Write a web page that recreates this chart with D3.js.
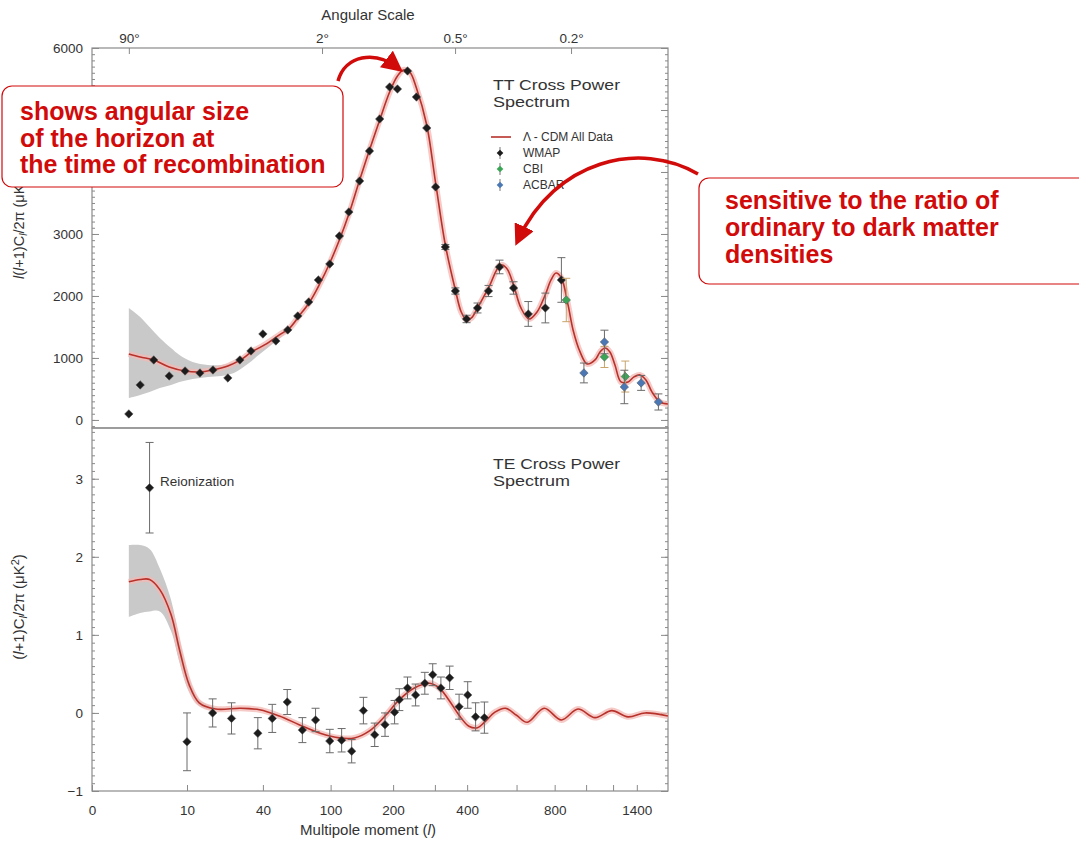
<!DOCTYPE html>
<html><head><meta charset="utf-8">
<script src="https://cdn.jsdelivr.net/npm/d3@7"></script>
<style>
body{margin:0;background:#fff;}
svg{display:block;font-family:"Liberation Sans",Arial,Helvetica,sans-serif;}
</style></head><body>
<svg id="chart" width="1079" height="842"></svg>
<script>
// ---------------- data ----------------
const xTickValues = [0, 10, 40, 100, 200, 400, 800, 1400];
const xMinorTickValues = [300, 600, 1000, 1200];
const angleTickDegrees = [90, 2, 0.5, 0.2];
const angleTickLabels = ["90°", "2°", "0.5°", "0.2°"];
const ttTickValues = [0, 1000, 2000, 3000, 4000, 5000, 6000];
const ttTickLabelsShown = [0, 1000, 2000, 3000, 6000]; // 4000/5000 lie under the annotation box
const teTickValues = [-1, 0, 1, 2, 3];

// Lambda-CDM model, TT
const ttModelL = [2,3,4.5,6.7,9.6,13,17,22.5,28,33.5,41,51,59,67,77,88,99,111,125,140,156,174,193,209,222,236,252,278,302,330,361,380,398,415,437,479,528,554,586,621,661,702,746,779,808,840,881,913,959,1007,1063,1100,1137,1175,1215,1264,1323,1375,1428,1483,1540,1618,1699];
const ttModelV = [1065,1016,968,855,790,774,806,871,968,1097,1210,1371,1484,1677,1903,2210,2532,2903,3355,3871,4355,4839,5290,5548,5645,5613,5355,4758,3823,2823,2097,1742,1613,1645,1806,2129,2500,2452,2177,1806,1629,1742,2016,2258,2371,2290,1855,1452,1097,903,968,1097,1161,1097,887,613,613,694,726,645,452,290,258];
// TT cosmic-variance band (low l)
const ttBandL = [2,3,4,5.3,7,8.5,11.3,15.5,20,25,31,38,47,58,70];
const ttBandHi = [1806,1661,1500,1322,1161,1048,935,887,887,935,1048,1177,1322,1500,1730];
const ttBandLo = [355,403,452,516,565,613,661,694,710,758,890,1060,1240,1440,1690];

// WMAP TT binned data
const wmapTTL = [2,3,4.5,6.7,9.6,13.2,17.1,22.5,27.7,33.2,40,48.5,57.4,65.8,76,86,99,111,124,140,156,174,193,209,231,252,278,302,330,361,398,437,479,524,586,657,747,840];
const wmapTTV = [97,565,968,710,790,758,806,677,968,1113,1387,1274,1452,1677,1903,2258,2516,2968,3355,3855,4339,4855,5371,5339,5629,5210,4710,3758,2790,2080,1629,1806,2080,2468,2129,1710,1806,2258];
const wmapTTErr = [0,0,0,0,0,0,0,0,0,0,0,0,0,0,0,0,0,0,0,0,0,0,0,0,0,0,0,0,40,50,60,80,90,110,100,200,240,360];
// CBI (green)
const cbiL = [870, 1133, 1300];
const cbiV = [1935, 1016, 700];
const cbiErr = [350, 170, 250];
// ACBAR (blue)
const acbarL = [985, 1133, 1292, 1439, 1603];
const acbarV = [758, 1258, 532, 597, 290];
const acbarErr = [160, 190, 270, 120, 130];

// Lambda-CDM model, TE
const teModelL = [2,3,4,5.3,7,8.5,10.5,13,18,28,38,51,67,88,111,132,156,184,213,247,286,312,340,373,406,437,463,505,550,600,652,741,840,945,1063,1190,1323,1475,1699];
const teModelV = [1.68,1.71,1.71,1.58,1.26,0.81,0.36,0.13,0.05,0.06,0.04,-0.04,-0.15,-0.26,-0.32,-0.32,-0.23,-0.04,0.17,0.32,0.38,0.32,0.17,-0.03,-0.17,-0.19,-0.12,0.01,0.06,-0.03,-0.12,0.06,-0.09,0.05,-0.06,0.03,-0.05,0.0,-0.04];
const teBandL = [2,3,4,5.3,7,8.5,10.5,13,18];
const teBandHi = [2.15,2.15,2.1,1.85,1.45,0.95,0.45,0.17,0.07];
const teBandLo = [1.23,1.28,1.3,1.3,1.05,0.65,0.27,0.09,0.03];
// WMAP TE data
const wmapTEL = [4,10,17,24,37,46,57,70,83,99,114,128,146,165,184,203,213,231,250,273,294,317,343,373,402,430,463];
const wmapTEV = [2.885,-0.37,0.0,-0.07,-0.26,-0.07,0.14,-0.22,-0.09,-0.36,-0.35,-0.49,0.03,-0.28,-0.15,0.01,0.17,0.32,0.23,0.38,0.49,0.32,0.45,0.08,0.23,-0.05,-0.06];
const wmapTEErr = [0.58,0.37,0.18,0.2,0.2,0.18,0.16,0.16,0.15,0.15,0.15,0.15,0.17,0.15,0.15,0.15,0.14,0.14,0.14,0.14,0.14,0.14,0.15,0.16,0.17,0.18,0.2];

const annotation1 = ["shows angular size", "of the horizon at", "the time of recombination"];
const annotation2 = ["sensitive to the ratio of", "ordinary to dark matter", "densities"];

// ---------------- layout ----------------
const svg = d3.select("#chart");
const L = 92, R = 668, T1 = 48, B1 = 428, T2 = 428, B2 = 791;
const tf = l => Math.pow(1 + l, 0.24);
const xs = d3.scaleLinear().domain([tf(0), tf(10), tf(1700)]).range([L, 187, R]);
const x = l => xs(tf(l));
const yTT = d3.scaleLinear().domain([-130, 6000]).range([B1, T1]);
const yTE = d3.scaleLinear().domain([-1, 3.65]).range([B2, T2]);

const axisColor = "#8a8a8a", textColor = "#333";

function styleAxis(g){
  g.selectAll("path.domain").remove();
  g.selectAll("line").attr("stroke", axisColor).attr("stroke-width", 1);
  g.selectAll("text").attr("fill", textColor).style("font-size", "13.5px")
   .style("font-family", '"Liberation Sans",Arial,sans-serif');
}

// frames
[[T1,B1],[T2,B2]].forEach(([t,b]) => {
  svg.append("rect").attr("x", L).attr("y", t).attr("width", R-L).attr("height", b-t)
    .attr("fill","none").attr("stroke", axisColor).attr("stroke-width", 1.2);
});

// y axes TT
const ttMinor = d3.range(-100, 6001, 100);
svg.append("g").attr("transform",`translate(${L},0)`)
  .call(d3.axisLeft(yTT).tickValues(ttMinor).tickFormat("").tickSizeInner(-3).tickSizeOuter(0)).call(styleAxis);
svg.append("g").attr("transform",`translate(${L},0)`)
  .call(d3.axisLeft(yTT).tickValues(ttTickValues).tickFormat(d => ttTickLabelsShown.includes(d) ? d3.format("d")(d) : "").tickSizeInner(-7).tickSizeOuter(0).tickPadding(9)).call(styleAxis);
svg.append("g").attr("transform",`translate(${R},0)`)
  .call(d3.axisRight(yTT).tickValues(ttMinor).tickFormat("").tickSizeInner(-3).tickSizeOuter(0)).call(styleAxis);
svg.append("g").attr("transform",`translate(${R},0)`)
  .call(d3.axisRight(yTT).tickValues(ttTickValues).tickFormat("").tickSizeInner(-7).tickSizeOuter(0)).call(styleAxis);

// y axes TE
const teMinor = d3.range(-1, 3.61, 0.1).map(v => +v.toFixed(1));
svg.append("g").attr("transform",`translate(${L},0)`)
  .call(d3.axisLeft(yTE).tickValues(teMinor).tickFormat("").tickSizeInner(-3).tickSizeOuter(0)).call(styleAxis);
svg.append("g").attr("transform",`translate(${L},0)`)
  .call(d3.axisLeft(yTE).tickValues(teTickValues).tickFormat(d3.format("d")).tickSizeInner(-7).tickSizeOuter(0).tickPadding(9)).call(styleAxis);
svg.append("g").attr("transform",`translate(${R},0)`)
  .call(d3.axisRight(yTE).tickValues(teMinor).tickFormat("").tickSizeInner(-3).tickSizeOuter(0)).call(styleAxis);
svg.append("g").attr("transform",`translate(${R},0)`)
  .call(d3.axisRight(yTE).tickValues(teTickValues).tickFormat("").tickSizeInner(-7).tickSizeOuter(0)).call(styleAxis);

// x axis bottom
const xAxisScale = d3.scaleLinear().domain(xs.domain()).range(xs.range());
svg.append("g").attr("transform",`translate(0,${B2})`)
  .call(d3.axisBottom(xAxisScale).tickValues(xTickValues.map(tf)).tickFormat((d,i)=>xTickValues[i]).tickSizeInner(-6).tickSizeOuter(0).tickPadding(14)).call(styleAxis);
svg.append("g").attr("transform",`translate(0,${B2})`)
  .call(d3.axisBottom(xAxisScale).tickValues(xMinorTickValues.map(tf)).tickFormat("").tickSizeInner(-6).tickSizeOuter(0)).call(styleAxis);

// x axis top (angular scale)
svg.append("g").attr("transform",`translate(0,${T1})`)
  .call(d3.axisTop(xAxisScale).tickValues(angleTickDegrees.map(a => tf(180/a))).tickFormat((d,i)=>angleTickLabels[i]).tickSizeInner(-6).tickSizeOuter(0).tickPadding(5)).call(styleAxis);

// axis titles
svg.append("text").attr("x", 368).attr("y", 20).attr("text-anchor","middle")
  .attr("fill", textColor).style("font-size","15px").text("Angular Scale");
const xt = svg.append("text").attr("x", 368).attr("y", 835).attr("text-anchor","middle")
  .attr("fill", textColor).style("font-size","15px");
xt.append("tspan").text("Multipole moment (");
xt.append("tspan").style("font-style","italic").text("l");
xt.append("tspan").text(")");

function yTitle(x0, y0, anchor, withL, fs){
  const t = svg.append("text").attr("transform",`translate(${x0},${y0}) rotate(-90)`).attr("text-anchor",anchor)
    .attr("fill", textColor).style("font-size", fs + "px");
  const sub = Math.round(fs*0.7);
  if (withL) t.append("tspan").style("font-style","italic").text("l");
  t.append("tspan").text("(");
  t.append("tspan").style("font-style","italic").text("l");
  t.append("tspan").text("+1)C");
  t.append("tspan").style("font-style","italic").style("font-size", sub+"px").attr("dy", 3).text("l");
  t.append("tspan").attr("dy", -3).text("/2π (μK");
  t.append("tspan").style("font-size", sub+"px").attr("dy", -5).text("2");
  t.append("tspan").attr("dy", 5).text(")");
}
yTitle(24, 279, "start", true, 14.5);
yTitle(24, 607, "middle", false, 15);

// clip paths
const defs = svg.append("defs");
defs.append("clipPath").attr("id","clipTT").append("rect").attr("x",L).attr("y",T1).attr("width",R-L).attr("height",B1-T1);
defs.append("clipPath").attr("id","clipTE").append("rect").attr("x",L).attr("y",T2).attr("width",R-L).attr("height",B2-T2);

// ---- TT panel ----
const gTT = svg.append("g").attr("clip-path","url(#clipTT)");
const ttBand = ttBandL.map((l,i)=>({l, hi: ttBandHi[i], lo: ttBandLo[i]}));
gTT.append("path").datum(ttBand)
  .attr("d", d3.area().x(d=>x(d.l)).y0(d=>yTT(d.lo)).y1(d=>yTT(d.hi)).curve(d3.curveCatmullRom))
  .attr("fill","#c9c9c9");
const ttModel = ttModelL.map((l,i)=>({l, v: ttModelV[i]}));
const ttLine = d3.line().x(d=>x(d.l)).y(d=>yTT(d.v)).curve(d3.curveCatmullRom);
gTT.append("path").datum(ttModel).attr("d", ttLine).attr("fill","none").attr("stroke","#f2b8b4").attr("stroke-width",6).attr("stroke-opacity",0.75);
gTT.append("path").datum(ttModel).attr("d", ttLine).attr("fill","none").attr("stroke","#b8312b").attr("stroke-width",1.6);

const diamond = d3.symbol(d3.symbolSquare, 36);
function drawPoints(g, ls, vs, es, ys, fill, barColor){
  const pts = ls.map((l,i)=>({l, v: vs[i], e: es[i]}));
  const eb = g.append("g");
  pts.filter(d=>d.e>0).forEach(d=>{
    const cx = x(d.l);
    eb.append("line").attr("x1",cx).attr("x2",cx).attr("y1",ys(d.v-d.e)).attr("y2",ys(d.v+d.e)).attr("stroke",barColor).attr("stroke-width",1);
    [d.v-d.e, d.v+d.e].forEach(v=>eb.append("line").attr("x1",cx-4).attr("x2",cx+4).attr("y1",ys(v)).attr("y2",ys(v)).attr("stroke",barColor).attr("stroke-width",1));
  });
  g.append("g").selectAll("path").data(pts).join("path")
    .attr("transform", d=>`translate(${x(d.l)},${ys(d.v)}) rotate(45)`)
    .attr("d", diamond)
    .attr("fill", fill).attr("stroke","#555").attr("stroke-width",0.5);
}
drawPoints(gTT, wmapTTL, wmapTTV, wmapTTErr, yTT, "#1c1c1c", "#6b6b6b");
drawPoints(gTT, cbiL, cbiV, cbiErr, yTT, "#3aa655", "#c9a46a");
drawPoints(gTT, acbarL, acbarV, acbarErr, yTT, "#4b78b5", "#6b6b6b");

// panel titles (stretched to the reference width, compact height)
function panelTitle(y0, lines){
  lines.forEach((s,i)=>svg.append("text").attr("x",493).attr("y",y0+i*17).attr("fill",textColor)
    .style("font-size","15px").attr("textLength", i===0 ? 127 : 77).attr("lengthAdjust","spacingAndGlyphs").text(s));
}
panelTitle(90, ["TT Cross Power", "Spectrum"]);
panelTitle(469, ["TE Cross Power", "Spectrum"]);

// legend
svg.append("line").attr("x1",491).attr("x2",511).attr("y1",137).attr("y2",137).attr("stroke","#b8312b").attr("stroke-width",1.6);
const legendNames = ["Λ - CDM All Data","WMAP","CBI","ACBAR"];
const legendColors = [null,"#1c1c1c","#3aa655","#4b78b5"];
legendNames.forEach((n,i)=>{
  const yy = 141 + i*16;
  svg.append("text").attr("x",523).attr("y",yy).attr("fill",textColor).style("font-size","12px").text(n);
  if (i>0){
    const cy = yy-4;
    svg.append("line").attr("x1",500).attr("x2",500).attr("y1",cy-6).attr("y2",cy+6).attr("stroke","#777");
    svg.append("path").attr("transform",`translate(500,${cy}) rotate(45)`).attr("d",d3.symbol(d3.symbolSquare,22)).attr("fill",legendColors[i]);
  }
});

// ---- TE panel ----
const gTE = svg.append("g").attr("clip-path","url(#clipTE)");
const teBand = teBandL.map((l,i)=>({l, hi: teBandHi[i], lo: teBandLo[i]}));
gTE.append("path").datum(teBand)
  .attr("d", d3.area().x(d=>x(d.l)).y0(d=>yTE(d.lo)).y1(d=>yTE(d.hi)).curve(d3.curveCatmullRom))
  .attr("fill","#c9c9c9");
const teModel = teModelL.map((l,i)=>({l, v: teModelV[i]}));
const teLine = d3.line().x(d=>x(d.l)).y(d=>yTE(d.v)).curve(d3.curveCatmullRom);
gTE.append("path").datum(teModel).attr("d", teLine).attr("fill","none").attr("stroke","#f2b8b4").attr("stroke-width",6).attr("stroke-opacity",0.75);
gTE.append("path").datum(teModel).attr("d", teLine).attr("fill","none").attr("stroke","#b8312b").attr("stroke-width",1.6);
drawPoints(gTE, wmapTEL, wmapTEV, wmapTEErr, yTE, "#1c1c1c", "#6b6b6b");

svg.append("text").attr("x",160).attr("y",486).attr("fill",textColor).style("font-size","13.5px").text("Reionization");

// ---- annotations ----
const red = "#d10a0a";
defs.append("marker").attr("id","ah").attr("viewBox","0 0 10 10").attr("refX",7).attr("refY",5)
  .attr("markerWidth",6).attr("markerHeight",6).attr("orient","auto").attr("markerUnits","strokeWidth")
  .append("path").attr("d","M0,0 L10,5 L0,10 z").attr("fill",red);

svg.append("rect").attr("x",2).attr("y",86).attr("width",341).attr("height",101).attr("rx",10)
  .attr("fill","#fff").attr("stroke",red).attr("stroke-width",1.2);
annotation1.forEach((s,i)=>svg.append("text").attr("x",20).attr("y",120+i*26.5).attr("fill",red)
  .style("font-size","25px").style("font-weight","bold").text(s));
svg.append("rect").attr("x",699).attr("y",178).attr("width",420).attr("height",106).attr("rx",10)
  .attr("fill","#fff").attr("stroke",red).attr("stroke-width",1.2);
annotation2.forEach((s,i)=>svg.append("text").attr("x",725).attr("y",209+i*27).attr("fill",red)
  .style("font-size","25px").style("font-weight","bold").text(s));

svg.append("path").attr("d","M338,81 C345,55 375,50 398,68").attr("fill","none").attr("stroke",red)
  .attr("stroke-width",3.5).attr("marker-end","url(#ah)");
svg.append("path").attr("d","M698,174 C640,140 555,160 518,240").attr("fill","none").attr("stroke",red)
  .attr("stroke-width",3.5).attr("marker-end","url(#ah)");
</script>
</body></html>
